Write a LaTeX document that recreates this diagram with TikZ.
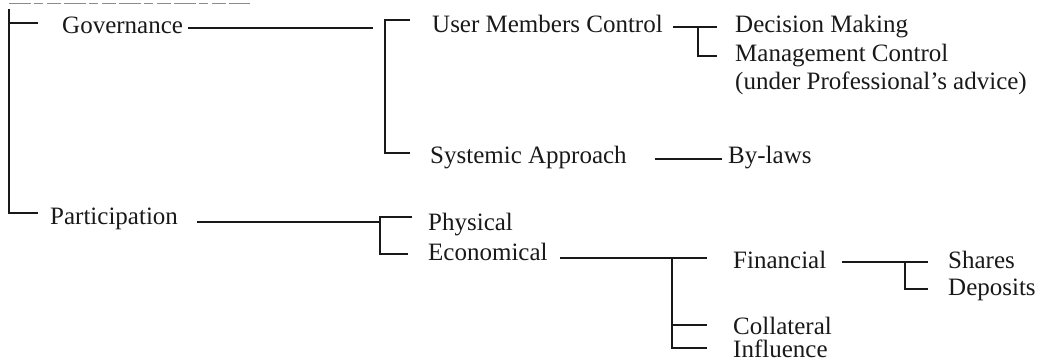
\documentclass[tikz,border=0pt]{standalone}
\usepackage{fontspec}
\setmainfont{Liberation Serif}
\begin{document}
\begin{tikzpicture}[x=1pt,y=-1pt,
  lbl/.style={anchor=base west, inner sep=0pt, font=\fontsize{25}{30}\selectfont, text=black!90},
  ln/.style={line width=1.1pt, black!90},
  scanline/.style={line width=1pt, black!45, dash pattern=on 22pt off 3pt on 9pt off 4pt on 14pt off 3pt}]
\useasboundingbox (0,0) rectangle (1048,363);

% text nodes
\node[lbl] (gov) at (62,34)  {Governance};
\node[lbl] (par) at (50,225) {Participation};
\node[lbl] (umc) at (432,33) {User Members Control};
\node[lbl] (sys) at (430,164) {Systemic Approach};
\node[lbl] (dec) at (735,33) {Decision Making};
\node[lbl] (man) at (735,62) {Management Control};
\node[lbl] (adv) at (735,90) {(under Professional's advice)};
\node[lbl] (byl) at (728,164) {By-laws};
\node[lbl] (phy) at (428,230) {Physical};
\node[lbl] (eco) at (428,260) {Economical};
\node[lbl] (fin) at (733,268) {Financial};
\node[lbl] (col) at (733,334) {Collateral};
\node[lbl] (inf) at (733,357) {Influence};
\node[lbl] (sha) at (948,268) {Shares};
\node[lbl] (dep) at (948,295) {Deposits};

% faint scan line at the top
\coordinate (s0) at (9,4);
\coordinate (s1) at (250,4);
\draw[scanline] (s0) -- (s1);

% root bracket
\coordinate (r0) at (9,9);
\coordinate (r1) at (9,23);
\coordinate (r2) at (9,213);
\coordinate (r1e) at (38,23);
\coordinate (r2e) at (38,213);
\draw[ln] (r0) -- (r2) -- (r2e);
\draw[ln] (r1) -- (r1e);

% Governance leader and bracket
\coordinate (g0) at (188,28);
\coordinate (g1) at (373,28);
\draw[ln] (g0) -- (g1);
\coordinate (b2t) at (385,20);
\coordinate (b2b) at (385,153);
\coordinate (b2te) at (410,20);
\coordinate (b2be) at (410,153);
\draw[ln] (b2te) -- (b2t) -- (b2b) -- (b2be);

% User Members Control sub-bracket
\coordinate (u0) at (673,27);
\coordinate (u1) at (698,27);
\coordinate (u1e) at (717,27);
\coordinate (u2) at (698,56);
\coordinate (u2e) at (717,56);
\draw[ln] (u0) -- (u1e);
\draw[ln] (u1) -- (u2) -- (u2e);

% Systemic Approach leader
\coordinate (y0) at (655,159);
\coordinate (y1) at (722,159);
\draw[ln] (y0) -- (y1);

% Participation leader and bracket
\coordinate (p0) at (197,222);
\coordinate (p1) at (380,222);
\draw[ln] (p0) -- (p1);
\coordinate (b3t) at (380,217);
\coordinate (b3b) at (380,254);
\coordinate (b3te) at (412,217);
\coordinate (b3be) at (408,254);
\draw[ln] (b3te) -- (b3t) -- (b3b) -- (b3be);

% Economical leader and bracket
\coordinate (e0) at (560,258);
\coordinate (e1) at (672,258);
\coordinate (e1e) at (707,258);
\coordinate (e2) at (672,325);
\coordinate (e2e) at (707,325);
\coordinate (e3) at (672,348);
\coordinate (e3e) at (707,348);
\draw[ln] (e0) -- (e1e);
\draw[ln] (e1) -- (e3) -- (e3e);
\draw[ln] (e2) -- (e2e);

% Financial leader and bracket
\coordinate (f0) at (842,262);
\coordinate (f1) at (905,262);
\coordinate (f1e) at (928,262);
\coordinate (f2) at (905,289);
\coordinate (f2e) at (928,289);
\draw[ln] (f0) -- (f1e);
\draw[ln] (f1) -- (f2) -- (f2e);
\end{tikzpicture}
\end{document}
